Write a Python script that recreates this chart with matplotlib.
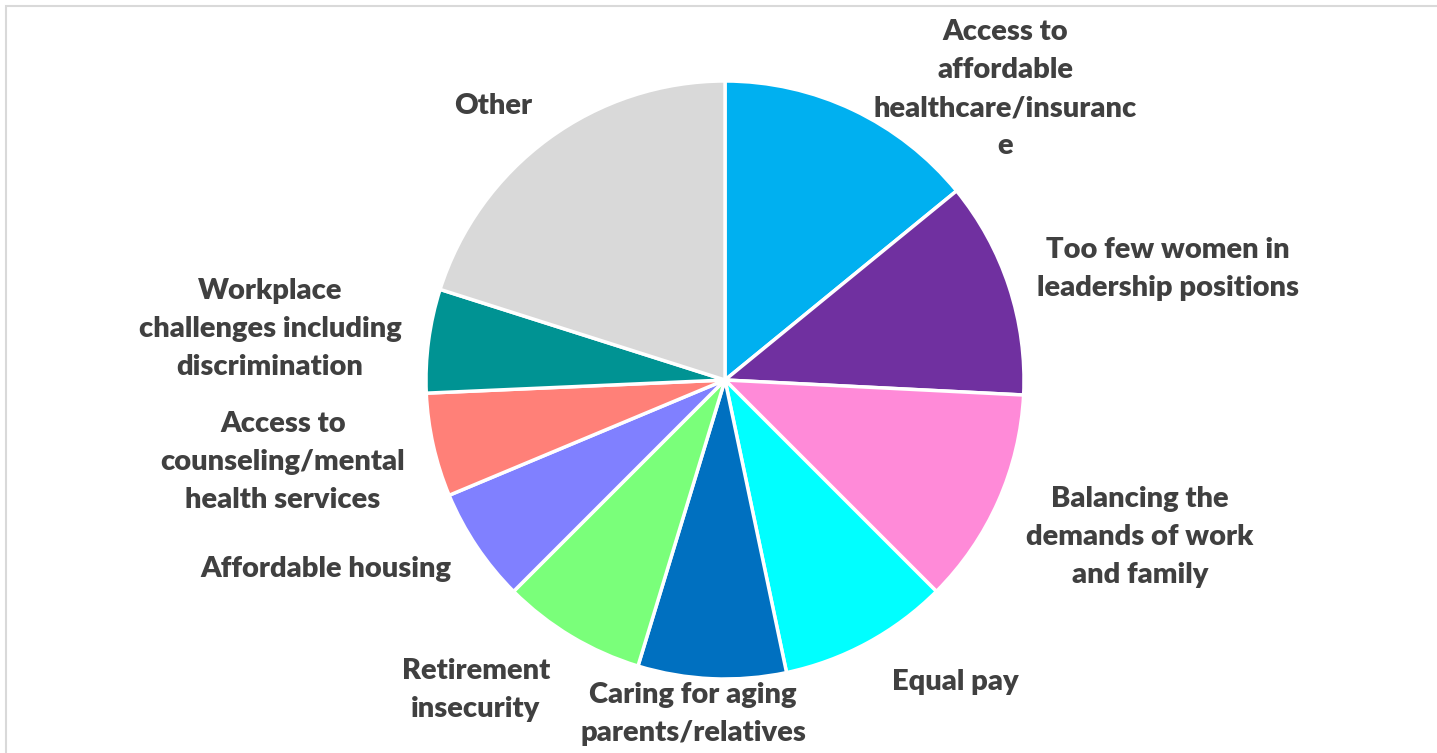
import matplotlib
matplotlib.use("Agg")
import matplotlib.pyplot as plt
from matplotlib.patches import Rectangle

# Data
categories = [
    "Access to\naffordable\nhealthcare/insuranc\ne",
    "Too few women in\nleadership positions",
    "Balancing the\ndemands of work\nand family",
    "Equal pay",
    "Caring for aging\nparents/relatives",
    "Retirement\ninsecurity",
    "Affordable housing",
    "Access to\ncounseling/mental\nhealth services",
    "Workplace\nchallenges including\ndiscrimination",
    "Other",
]
values = [14.1, 11.7, 11.7, 9.2, 8.0, 7.8, 6.2, 5.6, 5.6, 20.1]
colors = ["#00B0F0", "#7030A0", "#FF8AD8", "#00FFFF", "#0070C0",
          "#7AFF7A", "#8080FF", "#FF8078", "#009393", "#D9D9D9"]

# label centers in pixel coordinates (x, y from top)
label_pos = [(1005, 89), (1168, 269), (1140, 537), (955, 682), (693, 714),
             (476, 690), (326, 569), (283, 462), (270, 329), (493, 106)]

W, H = 1437, 753
fig = plt.figure(figsize=(W / 100, H / 100), dpi=100)
ax = fig.add_axes([0, 0, 1, 1])
ax.set_xlim(0, W)
ax.set_ylim(0, H)
ax.set_aspect("equal")
ax.axis("off")

# chart border (top/left visible)
ax.add_patch(Rectangle((6, -20), W + 40, H - 6 + 20, fill=False,
                       edgecolor="#D9D9D9", linewidth=1.5))

cx, cy, r = 725, H - 380, 299
ax.pie(values, colors=colors, startangle=90, counterclock=False,
       center=(cx, cy), radius=r, frame=True,
       wedgeprops=dict(edgecolor="white", linewidth=2.5))
ax.set_xlim(0, W)
ax.set_ylim(0, H)
ax.axis("off")

for lab, (x, y) in zip(categories, label_pos):
    ax.text(x, H - y, lab, ha="center", va="center", fontsize=21,
            fontweight="heavy", family="Lato", color="#404040",
            linespacing=1.58)

fig.savefig("out.png", dpi=100)
